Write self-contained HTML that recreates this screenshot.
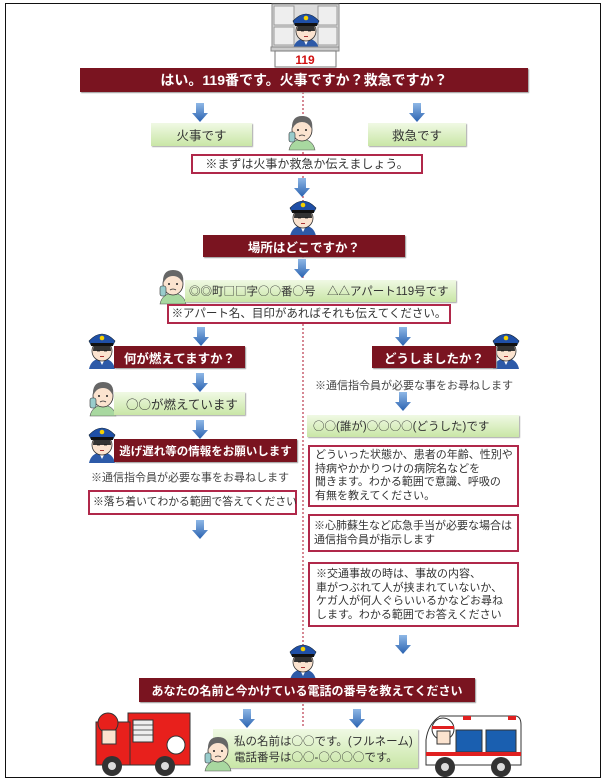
<!DOCTYPE html>
<html><head><meta charset="utf-8"><style>
body{margin:0;width:602px;height:781px;background:#fff;position:relative;overflow:hidden;font-family:"Liberation Sans","Noto Sans CJK JP",sans-serif;}
.a{position:absolute;box-sizing:border-box;}
.ban{background:#7a1420;color:#fff;font-weight:bold;display:flex;align-items:center;justify-content:center;font-size:12.5px;white-space:nowrap;box-shadow:1px 1px 1px #999;}
.grn{background:linear-gradient(#f0f9e4,#c9e6a6);color:#333;font-size:12.5px;display:flex;align-items:center;justify-content:center;white-space:nowrap;box-shadow:1px 1px 1px #aaa;}
.red{border:2px solid #b0284a;background:#fff;color:#333;font-size:11.5px;white-space:nowrap;}
.t{color:#444;font-size:11px;white-space:nowrap;}
.o{font-family:"Noto Sans CJK JP",sans-serif;font-weight:normal;}
svg{position:absolute;left:0;top:0;}
</style></head><body>
<div class="a" style="left:5px;top:3px;width:596px;height:775px;border:1.5px solid #111;"></div>
<svg width="602" height="781">
<defs>
<linearGradient id="bg" x1="0" y1="0" x2="0" y2="1"><stop offset="0" stop-color="#8fb8e6"/><stop offset="1" stop-color="#2a62b0"/></linearGradient>
<g id="ar"><path d="M-4,0 H4 V10 H8 L0,19 L-8,10 H-4 Z" fill="url(#bg)"/></g>
<g id="of"><path d="M2,40 Q4,30 15,29 Q26,30 28,40 Z" fill="#2d5aa8"/><path d="M12,30 L15,36 L18,30Z" fill="#fff"/><ellipse cx="15" cy="22" rx="10" ry="10" fill="#fbe3cf" stroke="#333" stroke-width=".8"/><path d="M6,22 Q6,12 15,12 Q24,12 24,22 Z" fill="#333"/><path d="M2,12 Q15,-2 28,12 L26,16 H4 Z" fill="#1f4fa6" stroke="#123" stroke-width=".6"/><rect x="4" y="14" width="22" height="3" fill="#111"/><circle cx="15" cy="9" r="2.3" fill="#f5d000"/><rect x="10" y="21" width="3" height="1.4" fill="#222"/><rect x="17" y="21" width="3" height="1.4" fill="#222"/><rect x="13" y="27" width="4" height="1" fill="#a33"/></g>
<g id="pe"><path d="M2,40 Q4,30 15,29 Q26,30 28,40 Z" fill="#a8d8a0" stroke="#555" stroke-width=".6"/><ellipse cx="15" cy="20" rx="10" ry="11" fill="#fbe3cf" stroke="#333" stroke-width=".8"/><path d="M5,20 Q4,6 15,6 Q27,6 25,20 Q22,12 15,12 Q8,12 5,20Z" fill="#666"/><rect x="2" y="22" width="6" height="10" rx="2" fill="#9cc" stroke="#333" stroke-width=".6"/><circle cx="11" cy="20" r="1" fill="#222"/><circle cx="19" cy="20" r="1" fill="#222"/><path d="M12,26 Q15,24 18,26" stroke="#333" fill="none" stroke-width=".8"/></g>
</defs>
<line x1="303" y1="92" x2="303" y2="728" stroke="#c86070" stroke-width="1.5" stroke-dasharray="2,2"/>
<rect x="272" y="4" width="67" height="45" fill="#ddd" stroke="#888"/>
<g fill="#eee" stroke="#999"><rect x="274" y="6" width="20" height="19"/><rect x="318" y="6" width="19" height="19"/><rect x="274" y="27" width="20" height="18"/><rect x="318" y="27" width="19" height="18"/></g>
<use href="#of" x="291" y="9"/>
<rect x="271" y="47" width="68" height="4" fill="#ccc" stroke="#888"/>
<rect x="275" y="51" width="61" height="16" fill="#fff" stroke="#777"/>
<text x="305" y="64" font-family="Liberation Sans" font-weight="bold" font-size="12" fill="#d01010" text-anchor="middle">119</text>
<use href="#ar" x="200" y="103"/><use href="#ar" x="417" y="103"/>
<use href="#pe" x="287" y="110"/>
<use href="#ar" x="302" y="178"/>
<use href="#of" x="288" y="196"/>
<use href="#ar" x="302" y="259"/>
<use href="#pe" x="158" y="264"/>
<use href="#ar" x="201" y="327"/><use href="#ar" x="403" y="327"/>
<use href="#of" x="87" y="329"/><use href="#of" x="491" y="329"/>
<use href="#ar" x="200" y="373"/>
<use href="#pe" x="88" y="376"/>
<use href="#ar" x="403" y="392"/>
<use href="#ar" x="200" y="420"/>
<use href="#of" x="87" y="423"/>
<use href="#ar" x="200" y="520"/>
<use href="#ar" x="403" y="635"/>
<use href="#of" x="288" y="640"/>
<use href="#ar" x="247" y="709"/><use href="#ar" x="357" y="709"/>
<g>
<rect x="128" y="713" width="62" height="52" fill="#e8201c" stroke="#333" stroke-width="1"/>
<rect x="96" y="722" width="34" height="43" fill="#e8201c" stroke="#333"/>
<rect x="133" y="720" width="20" height="22" fill="#eee" stroke="#333"/>
<g stroke="#333" stroke-width=".8"><line x1="133" y1="725" x2="153" y2="725"/><line x1="133" y1="730" x2="153" y2="730"/><line x1="133" y1="735" x2="153" y2="735"/></g>
<circle cx="176" cy="745" r="9" fill="#fff" stroke="#333"/>
<circle cx="108" cy="723" r="10" fill="#e8201c" stroke="#333"/>
<rect x="102" y="730" width="14" height="14" fill="#fbe3cf" stroke="#333"/>
<circle cx="112" cy="766" r="10" fill="#333"/><circle cx="112" cy="766" r="4" fill="#ddd"/>
<circle cx="165" cy="766" r="10" fill="#333"/><circle cx="165" cy="766" r="4" fill="#ddd"/>
</g>
<g>
<path d="M440,716 H515 Q521,716 521,725 V765 H426 V740 Q428,724 440,716Z" fill="#fff" stroke="#333"/>
<rect x="486" y="730" width="30" height="22" fill="#1a5fb0" stroke="#333"/>
<rect x="456" y="730" width="26" height="22" fill="#1a5fb0" stroke="#333"/>
<rect x="426" y="752" width="95" height="4" fill="#e02020"/>
<rect x="463" y="716" width="8" height="4" fill="#e02020"/><rect x="508" y="716" width="8" height="4" fill="#e02020"/>
<circle cx="443" cy="729" r="11" fill="#fff" stroke="#333"/><rect x="432" y="726" width="22" height="3" fill="#e02020"/>
<rect x="437" y="731" width="13" height="13" fill="#fbe3cf" stroke="#333"/>
<circle cx="445" cy="767" r="10" fill="#333"/><circle cx="445" cy="767" r="4" fill="#ddd"/>
<circle cx="501" cy="767" r="10" fill="#333"/><circle cx="501" cy="767" r="4" fill="#ddd"/>
</g>
</svg>
<div class="a ban" style="left:80px;top:68px;width:448px;height:24px;font-size:14px;">はい。119番です。火事ですか？救急ですか？</div>
<div class="a grn" style="left:151px;top:123px;width:101px;height:23px;">火事です</div>
<div class="a grn" style="left:368px;top:123px;width:98px;height:23px;">救急です</div>
<div class="a red" style="left:191px;top:154px;width:232px;height:20px;text-align:center;line-height:16px;font-size:12px;">※まずは火事か救急か伝えましょう。</div>
<div class="a ban" style="left:203px;top:235px;width:202px;height:22px;">場所はどこですか？</div>
<div class="a grn" style="left:185px;top:280px;width:271px;height:22px;justify-content:flex-start;padding-left:4px;font-size:11.5px;"><span class="o">◎◎</span>町<span class="o">□□</span>字<span class="o">○○</span>番<span class="o">○</span>号　<span class="o">△△</span>アパート119号です</div>
<div class="a red" style="left:167px;top:304px;width:284px;height:20px;text-align:center;line-height:16px;font-size:11.5px;">※アパート名、目印があればそれも伝えてください。</div>
<div class="a ban" style="left:114px;top:346px;width:131px;height:22px;">何が燃えてますか？</div>
<div class="a ban" style="left:372px;top:346px;width:124px;height:22px;">どうしましたか？</div>
<div class="a t" style="left:315px;top:377px;">※通信指令員が必要な事をお尋ねします</div>
<div class="a grn" style="left:114px;top:392px;width:131px;height:23px;justify-content:flex-start;padding-left:12px;"><span class="o">○○</span>が燃えています</div>
<div class="a grn" style="left:307px;top:415px;width:212px;height:22px;justify-content:flex-start;padding-left:6px;font-size:11.5px;"><span class="o">○○</span>(誰が)<span class="o">○○○○</span>(どうした)です</div>
<div class="a ban" style="left:114px;top:439px;width:183px;height:23px;font-size:11.5px;">逃げ遅れ等の情報をお願いします</div>
<div class="a t" style="left:91px;top:469px;">※通信指令員が必要な事をお尋ねします</div>
<div class="a red" style="left:88px;top:490px;width:209px;height:25px;line-height:21px;padding-left:3px;font-size:10.8px;">※落ち着いてわかる範囲で答えてください</div>
<div class="a red" style="left:308px;top:445px;width:211px;height:62px;padding:2px 5px;line-height:13.5px;font-size:11px;">どういった状態か、患者の年齢、性別や<br>持病やかかりつけの病院名などを<br>聞きます。わかる範囲で意識、呼吸の<br>有無を教えてください。</div>
<div class="a red" style="left:308px;top:514px;width:211px;height:38px;padding:3px 4px;line-height:14px;font-size:11px;">※心肺蘇生など応急手当が必要な場合は<br>通信指令員が指示します</div>
<div class="a red" style="left:308px;top:562px;width:211px;height:65px;padding:4px 6px;line-height:13.5px;font-size:11px;">※交通事故の時は、事故の内容、<br>車がつぶれて人が挟まれていないか、<br>ケガ人が何人ぐらいいるかなどお尋ね<br>します。わかる範囲でお答えください</div>
<div class="a ban" style="left:139px;top:678px;width:336px;height:24px;font-size:12px;">あなたの名前と今かけている電話の番号を教えてください</div>
<div class="a grn" style="left:213px;top:729px;width:205px;height:39px;display:block;padding:5px 0 0 21px;line-height:15px;font-size:11.5px;">私の名前は<span class="o">○○</span>です。(フルネーム)<br>電話番号は<span class="o">○○</span>-<span class="o">○○○○</span>です。</div>
<svg width="602" height="781" style="pointer-events:none"><use href="#pe" x="203" y="731"/></svg>
</body></html>
